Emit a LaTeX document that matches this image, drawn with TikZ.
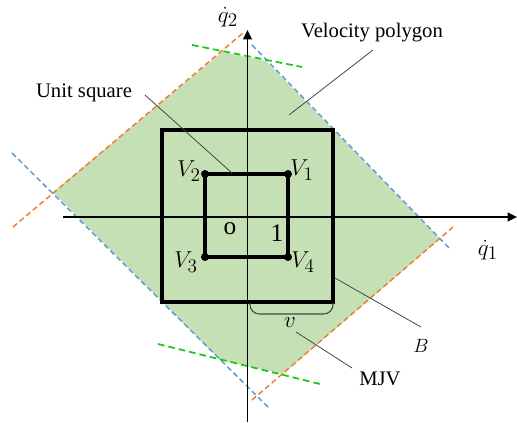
\documentclass[tikz,border=0pt]{standalone}
\usepackage{amsmath}
\usepackage{fontspec}
\setmainfont{Liberation Serif}
\usetikzlibrary{positioning, arrows.meta}
\definecolor{polygreen}{RGB}{197,224,180}
\definecolor{dorange}{RGB}{237,125,49}
\definecolor{dblue}{RGB}{91,155,213}
\definecolor{dgreen}{RGB}{20,200,20}
\definecolor{leadgray}{RGB}{70,70,70}

\begin{document}
\begin{tikzpicture}[
  x=0.75pt, y=-0.75pt,
  polyfill/.style={fill=polygreen},
  odash/.style={draw=dorange, line width=1.1pt, dash pattern=on 4pt off 2.5pt},
  bdash/.style={draw=dblue, line width=1.1pt, dash pattern=on 4pt off 2.5pt},
  gdash/.style={draw=dgreen, line width=1.3pt, dash pattern=on 5pt off 3pt},
  sqline/.style={draw, line width=2.3pt, line join=miter},
  axisline/.style={draw, line width=1.4pt, -{Triangle[length=7pt, width=6.5pt]}},
  leader/.style={draw=leadgray, line width=0.6pt},
  vdot/.style={circle, fill, inner sep=0pt, minimum size=6pt},
  txtlab/.style={font=\fontsize{15.5}{18}\selectfont, inner sep=0pt},
  mlab/.style={font=\fontsize{19}{22}\selectfont, inner sep=0pt},
]
\useasboundingbox (0,0) rectangle (517,422);

% Polygon corners
\coordinate (pA)  at (222,52);
\coordinate (pTR) at (266,61);
\coordinate (pR)  at (440,239);
\coordinate (pB)  at (283,374);
\coordinate (pBL) at (220,360);
\coordinate (pL)  at (53,192);
\fill[polyfill] (pA) -- (pTR) -- (pR) -- (pB) -- (pBL) -- (pL) -- cycle;

% Limit lines (ends)
\coordinate (oa1) at (13,227);  \coordinate (oa2) at (243,33);
\coordinate (ob1) at (252,400); \coordinate (ob2) at (453,227);
\coordinate (ba1) at (12,153);  \coordinate (ba2) at (270,409);
\coordinate (bb1) at (252,45);  \coordinate (bb2) at (450,249);
\coordinate (ga1) at (192,45);  \coordinate (ga2) at (302,67);
\coordinate (gb1) at (158,344); \coordinate (gb2) at (320,384);
\draw[odash] (oa1) -- (oa2);
\draw[odash] (ob1) -- (ob2);
\draw[bdash] (ba1) -- (ba2);
\draw[bdash] (bb1) -- (bb2);
\draw[gdash] (ga1) -- (ga2);
\draw[gdash] (gb1) -- (gb2);

% Box B and unit square
\draw[sqline] (162,130) rectangle (333,302);
\node[vdot] (v1) at (288,174) {};
\node[vdot] (v2) at (205,174) {};
\node[vdot] (v3) at (205,257) {};
\node[vdot] (v4) at (288,257) {};
\draw[sqline] (v1.center) -- (v2.center) -- (v3.center) -- (v4.center) -- cycle;

% Axes
\coordinate (xs) at (63,217);   \coordinate (xe) at (517,217);
\coordinate (ys) at (247.5,422); \coordinate (ye) at (247.5,30);
\draw[axisline] (xs) -- (xe);
\draw[axisline] (ys) -- (ye);
\node[mlab] (q1) at (488,250) {$\dot{q}_1$};
\node[mlab] (q2) at (228,17) {$\dot{q}_2$};

% Vertex labels
\node[mlab] (l1) at (302,170) {$V_1$};
\node[mlab] (l2) at (189,171) {$V_2$};
\node[mlab] (l3) at (186,262) {$V_3$};
\node[mlab] (l4) at (303,262) {$V_4$};
\node[mlab] (orig) at (230,229) {o};
\node[mlab] (one) at (277,233) {1};

% MJV bracket
\draw[leadgray, line width=0.8pt, rounded corners=7pt] (250,303) |- (333,314) -- (333,303);
\node[mlab] (vlab) at (290,323) {$v$};

% Callouts
\node[txtlab] (vpoly) at (372,33) {Velocity polygon};
\node[txtlab] (usq) at (84,93) {Unit square};
\node[txtlab, font=\fontsize{15}{18}\selectfont] (blab) at (421,346) {$B$};
\node[txtlab] (mjv) at (380,379) {MJV};
\coordinate (vp1) at (373,50);  \coordinate (vp2) at (289,115);
\coordinate (us1) at (145,95);  \coordinate (us2) at (232,173);
\coordinate (bb3) at (335,278); \coordinate (bb4) at (421,327);
\coordinate (mj1) at (296,332); \coordinate (mj2) at (352,368);
\draw[leader] (vp1) -- (vp2);
\draw[leader] (us1) -- (us2);
\draw[leader] (bb3) -- (bb4);
\draw[leader] (mj1) -- (mj2);
\end{tikzpicture}
\end{document}
